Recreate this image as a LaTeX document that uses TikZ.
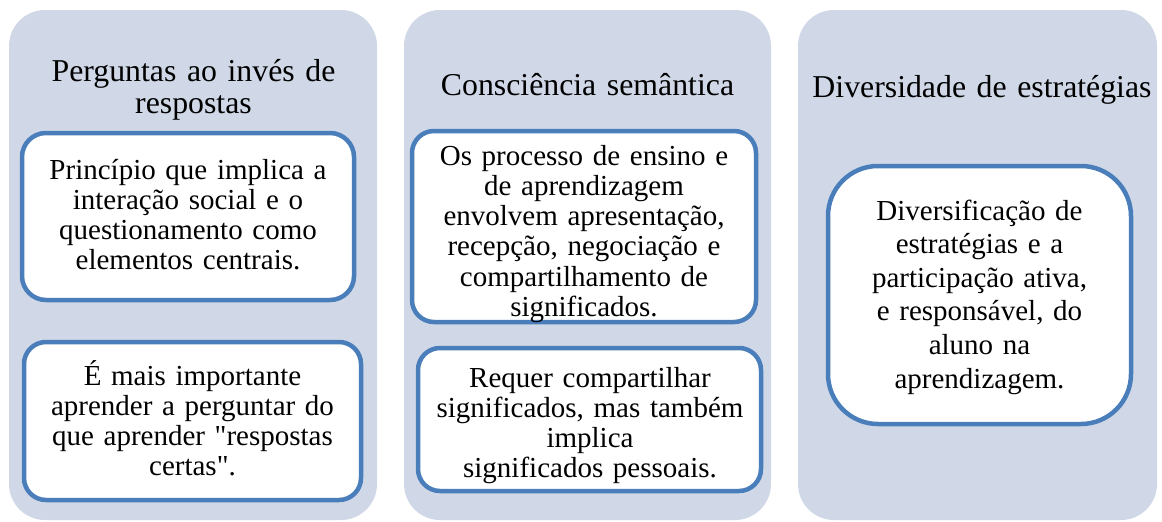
\documentclass[tikz,border=0pt]{standalone}
\usepackage{fontspec}
\newfontfamily\serifx{Liberation Serif}
\definecolor{bgcol}{HTML}{D0D8E8}
\definecolor{bordercol}{HTML}{4A7EBB}
\tikzset{
  column/.style={fill=bgcol, rounded corners=36pt},
  whitebox/.style={fill=white, draw=bordercol, line width=4.5pt},
  titletxt/.style={anchor=base, align=center, text width=360pt, inner sep=0pt, font=\serifx\fontsize{31.8}{32.5}\selectfont},
  bodytxt/.style={anchor=base, align=center, text width=340pt, inner sep=0pt, font=\serifx\fontsize{29}{30.3}\selectfont},
}
\begin{document}
\begin{tikzpicture}[x=1pt,y=-1pt]
\useasboundingbox (0,0) rectangle (1162,522);
% columns
\fill[column] (9,10) rectangle (377,520);
\fill[column] (404,10) rectangle (771,520);
\fill[column] (798,10) rectangle (1157,520);
% boxes
\draw[whitebox, rounded corners=24pt] (22,133) rectangle (354,300);
\draw[whitebox, rounded corners=22pt] (24,342) rectangle (361,500);
\draw[whitebox, rounded corners=22pt] (412,131) rectangle (756,322);
\draw[whitebox, rounded corners=22pt] (418,348) rectangle (761,491);
\draw[whitebox, rounded corners=50pt] (828,166) rectangle (1131,424);
% titles
\node[titletxt] (t1) at (193.5,81) {Perguntas ao invés de\\respostas};
\node[titletxt] (t2) at (587.5,95) {Consciência semântica};
\node[titletxt] (t3) at (982,97) {Diversidade de estratégias};
% texts
\node[bodytxt] (b1) at (188,179) {Princípio que implica a\\interação social e o\\questionamento como\\elementos centrais.};
\node[bodytxt] (b2) at (192.5,385) {É mais importante\\aprender a perguntar do\\que aprender "respostas\\certas".};
\node[bodytxt] (b3) at (584,165) {Os processo de ensino e\\de aprendizagem\\envolvem apresentação,\\recepção, negociação e\\compartilhamento de\\significados.};
\node[bodytxt] (b4) at (590,387) {Requer compartilhar\\significados, mas também\\implica\\significados pessoais.};
\node[bodytxt, font=\serifx\fontsize{29}{33.6}\selectfont] (b5) at (979.5,220) {Diversificação de\\estratégias e a\\participação ativa,\\e responsável, do\\aluno na\\aprendizagem.};
\end{tikzpicture}
\end{document}
